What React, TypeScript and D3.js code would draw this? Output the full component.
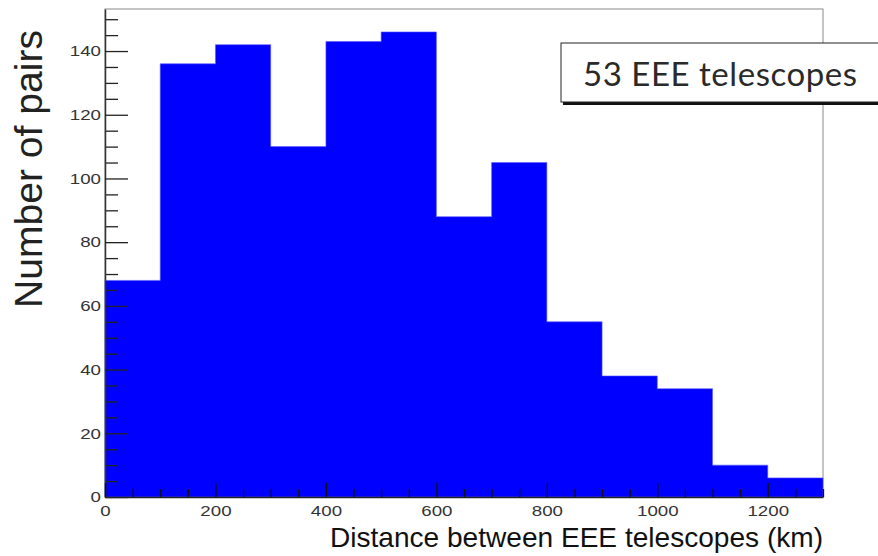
import React, { useEffect, useRef } from 'react';
import * as d3 from 'd3';

// histogram of pair distances, 100 km bins
const binEdges = [0, 100, 200, 300, 400, 500, 600, 700, 800, 900, 1000, 1100, 1200, 1300];
const counts = [68, 136, 142, 110, 143, 146, 88, 105, 55, 38, 34, 10, 6];
const yTicks = [0, 20, 40, 60, 80, 100, 120, 140];
const xTicks = [0, 200, 400, 600, 800, 1000, 1200];

export default function App() {
  const svgRef = useRef<SVGSVGElement>(null);

  useEffect(() => {
    const width = 878;
    const height = 556;
    const margin = { top: 9, right: 55, bottom: 59, left: 105 };

    const svg = d3.select(svgRef.current);
    svg.selectAll('*').remove();
    svg.attr('width', width).attr('height', height);

    const x = d3.scaleLinear()
      .domain([0, 1300])
      .range([margin.left, width - margin.right]);

    const y = d3.scaleLinear()
      .domain([0, 153.2])
      .range([height - margin.bottom, margin.top]);

    const x0 = margin.left;
    const x1 = width - margin.right;
    const y0 = height - margin.bottom;
    const y1 = margin.top;

    // frame (top/right gray)
    svg.append('rect')
      .attr('x', x0).attr('y', y1)
      .attr('width', x1 - x0).attr('height', y0 - y1)
      .attr('fill', 'white')
      .attr('stroke', '#8a8a8a')
      .attr('stroke-width', 1);

    // histogram as one stepped area, so no seams between bins
    const steps = binEdges.map((e, i) => ({ e, c: i < counts.length ? counts[i] : counts[counts.length - 1] }));
    const area = d3.area<{ e: number; c: number }>()
      .x(d => x(d.e))
      .y0(y(0))
      .y1(d => y(d.c))
      .curve(d3.curveStepAfter);

    svg.append('path')
      .datum(steps)
      .attr('fill', '#0000ff')
      .attr('stroke', '#5a5aff')
      .attr('stroke-width', 0.6)
      .attr('d', area);

    // y axis: minor ticks every 5
    const yMinor = d3.range(0, 155, 5).filter(v => v % 20 !== 0);
    svg.append('g')
      .attr('transform', `translate(${x0},0)`)
      .call(d3.axisLeft(y).tickValues(yMinor).tickSize(-13).tickFormat(() => ''))
      .call(g => g.select('.domain').remove())
      .selectAll('line').attr('stroke', '#222').attr('stroke-width', 1.3);

    const yAxis = svg.append('g')
      .attr('transform', `translate(${x0},0)`)
      .call(d3.axisLeft(y).tickValues(yTicks).tickSizeInner(-23).tickSizeOuter(0).tickPadding(4).tickFormat(d3.format('d')));
    yAxis.select('.domain').attr('stroke', '#333').attr('stroke-width', 1.5);
    yAxis.selectAll('line').attr('stroke', '#222').attr('stroke-width', 1.3);
    yAxis.selectAll('text')
      .attr('fill', '#333')
      .style('font-family', '"Liberation Sans", Arial, sans-serif')
      .style('font-size', '15px')
      .attr('textLength', (d: any) => String(d).length * 10.4)
      .attr('lengthAdjust', 'spacingAndGlyphs');

    // x axis: minor ticks every 50
    const xMinor = d3.range(0, 1301, 50).filter(v => v % 200 !== 0);
    svg.append('g')
      .attr('transform', `translate(0,${y0})`)
      .call(d3.axisBottom(x).tickValues(xMinor).tickSize(-8).tickFormat(() => ''))
      .call(g => g.select('.domain').remove())
      .selectAll('line').attr('stroke', '#111').attr('stroke-width', 1.3);

    const xAxis = svg.append('g')
      .attr('transform', `translate(0,${y0})`)
      .call(d3.axisBottom(x).tickValues(xTicks).tickSizeInner(-14).tickSizeOuter(0).tickPadding(8).tickFormat(d3.format('d')));
    xAxis.select('.domain').attr('stroke', '#222').attr('stroke-width', 1.5);
    xAxis.selectAll('line').attr('stroke', '#111').attr('stroke-width', 1.3);
    xAxis.selectAll('text')
      .attr('fill', '#333')
      .style('font-family', '"Liberation Sans", Arial, sans-serif')
      .style('font-size', '15px')
      .attr('textLength', (d: any) => String(d).length * 10.4)
      .attr('lengthAdjust', 'spacingAndGlyphs');

    // axis titles
    svg.append('text')
      .attr('x', x1)
      .attr('y', 547)
      .attr('text-anchor', 'end')
      .attr('fill', '#111')
      .style('font-family', '"Liberation Sans", Arial, sans-serif')
      .style('font-size', '28px')
      .attr('textLength', 493)
      .attr('lengthAdjust', 'spacingAndGlyphs')
      .text('Distance between EEE telescopes (km)');

    svg.append('text')
      .attr('transform', 'translate(42,30) rotate(-90)')
      .attr('text-anchor', 'end')
      .attr('fill', '#222')
      .style('font-family', '"Liberation Sans", Arial, sans-serif')
      .style('font-size', '38px')
      .attr('textLength', 278)
      .attr('lengthAdjust', 'spacingAndGlyphs')
      .text('Number of pairs');

    // label box with shadow
    const box = svg.append('g');
    box.append('rect')
      .attr('x', 563).attr('y', 45)
      .attr('width', 330).attr('height', 60)
      .attr('fill', '#111');
    box.append('rect')
      .attr('x', 561).attr('y', 43)
      .attr('width', 330).attr('height', 59)
      .attr('fill', 'white')
      .attr('stroke', '#222')
      .attr('stroke-width', 1);
    box.append('text')
      .attr('x', 583)
      .attr('y', 86)
      .attr('fill', '#2a2a2a')
      .style('font-family', 'Lato, "Noto Sans", sans-serif')
      .style('font-size', '33px')
      .attr('textLength', 274)
      .attr('lengthAdjust', 'spacing')
      .text('53 EEE telescopes');
  }, []);

  return (
    <div style={{ position: 'absolute', left: 0, top: 0 }}>
      <svg ref={svgRef}></svg>
    </div>
  );
}
